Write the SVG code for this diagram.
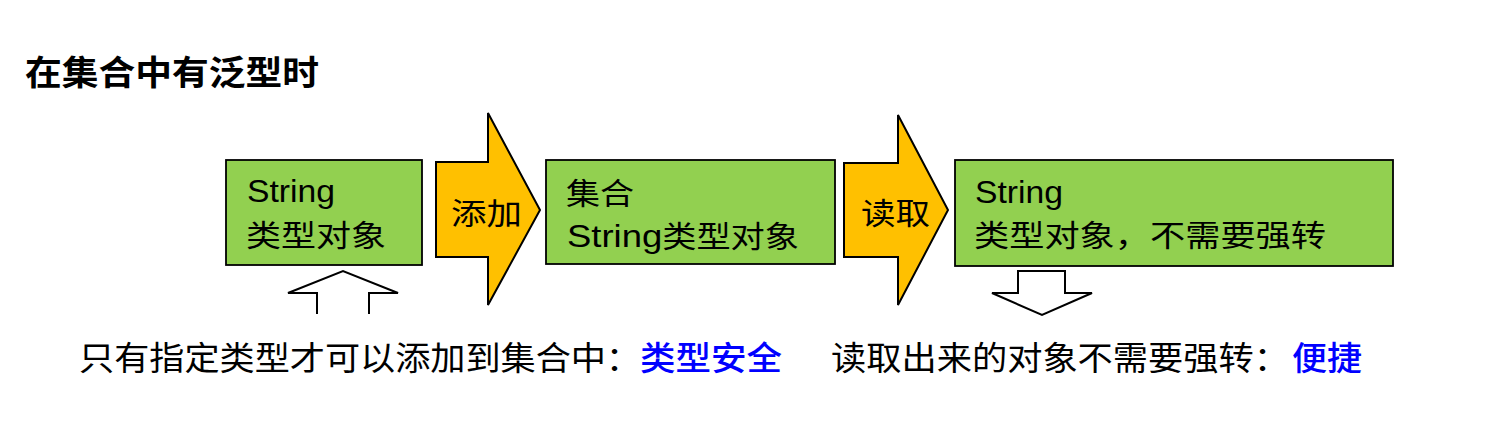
<svg xmlns="http://www.w3.org/2000/svg" width="1486" height="424" viewBox="0 0 1486 424">
<style>
.box{fill:#92D050;stroke:#000;stroke-width:1.8}
.arr{fill:#FFC000;stroke:#000;stroke-width:2;stroke-linejoin:miter}
.hollow{fill:#fff;stroke:#000;stroke-width:2}
.t{font-family:"Liberation Sans","Noto Sans CJK SC",sans-serif;font-size:30px;fill:#000}
.lat{font-size:32px}
.cjk{font-family:"Noto Sans CJK SC",sans-serif;fill:#000}
.blue{fill:#0000FF}
</style>
<rect width="1486" height="424" fill="#fff"/>
<g id="title">
<text class="cjk" x="25" y="85" font-size="34" font-weight="bold" textLength="294" lengthAdjust="spacingAndGlyphs">在集合中有泛型时</text>
</g>
<g id="connectors">
<polygon id="add-arrow" class="arr" points="436,162 488,162 488,113 540,210 488,305 488,257 436,257"/>
<polygon id="read-arrow" class="arr" points="844,163 898,163 898,115 948,210 898,305 898,257 844,257"/>
<polyline id="up-arrow" class="hollow" points="317,314 317,293 288,293 343,271 398,293 369,293 369,314"/>
<polygon id="down-arrow" class="hollow" points="1018,271 1065,271 1065,293 1092,293 1042,315 992,293 1018,293"/>
<text class="t" x="451" y="224" textLength="71" lengthAdjust="spacingAndGlyphs">添加</text>
<text class="t" x="861" y="224" textLength="69" lengthAdjust="spacingAndGlyphs">读取</text>
</g>
<g id="node-string">
<rect class="box" x="226" y="160" width="196" height="105"/>
<text class="t lat" x="247" y="202" textLength="88" lengthAdjust="spacingAndGlyphs">String</text>
<text class="t" x="246" y="246" textLength="140" lengthAdjust="spacingAndGlyphs">类型对象</text>
</g>
<g id="node-collection">
<rect class="box" x="546" y="160" width="289" height="104"/>
<text class="t" x="566" y="204" textLength="68" lengthAdjust="spacingAndGlyphs">集合</text>
<text class="t" x="567" y="247" textLength="232" lengthAdjust="spacingAndGlyphs"><tspan font-size="32">String</tspan>类型对象</text>
</g>
<g id="node-result">
<rect class="box" x="955" y="160" width="438" height="106"/>
<text class="t lat" x="975" y="203" textLength="88" lengthAdjust="spacingAndGlyphs">String</text>
<text class="t" x="974" y="246" textLength="352" lengthAdjust="spacingAndGlyphs">类型对象，不需要强转</text>
</g>
<g id="note-left">
<text class="cjk" x="79" y="370" font-size="33" textLength="562" lengthAdjust="spacingAndGlyphs">只有指定类型才可以添加到集合中：</text>
<text class="cjk blue" x="640" y="370" font-size="33" font-weight="500" textLength="142" lengthAdjust="spacingAndGlyphs">类型安全</text>
</g>
<g id="note-right">
<text class="cjk" x="831" y="370" font-size="33" textLength="458" lengthAdjust="spacingAndGlyphs">读取出来的对象不需要强转：</text>
<text class="cjk blue" x="1292" y="370" font-size="33" font-weight="500" textLength="70" lengthAdjust="spacingAndGlyphs">便捷</text>
</g>
</svg>
